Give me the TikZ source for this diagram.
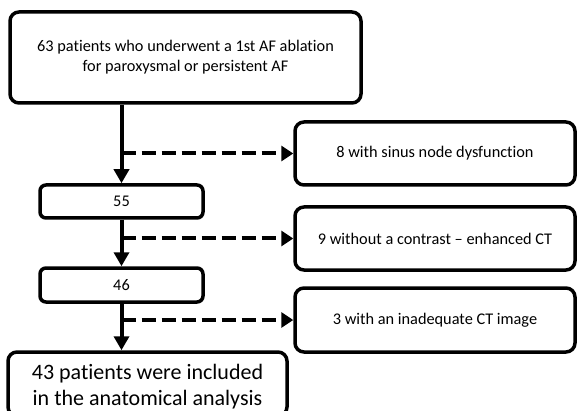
\documentclass[tikz,border=0pt]{standalone}
\usepackage{fontspec}
\setmainfont{Carlito}[Ligatures=NoCommon]
\usetikzlibrary{arrows.meta}
\begin{document}
\begin{tikzpicture}[x=1pt,y=-1pt,
  box/.style={draw=black, line width=3.5pt, rounded corners=9pt, fill=white, inner sep=0pt, align=center, font=\fontsize{16.3}{20}\selectfont},
  smallbox/.style={box, rounded corners=6pt},
  bigbox/.style={box},
  flow/.style={line width=4pt, -{Triangle[length=14pt,width=15pt]}},
  dasharrow/.style={line width=4pt, dash pattern=on 14pt off 6pt, -{Triangle[length=12pt,width=15pt]}}]
\useasboundingbox (0,0) rectangle (577,411);
\node[box, minimum width=351pt, minimum height=91pt] (top) at (185.5,57.5) {63 patients who underwent a 1st AF ablation\\for paroxysmal or persistent AF};
\node[smallbox, minimum width=163pt, minimum height=33pt] (b55) at (121.5,201.5) {55};
\node[smallbox, minimum width=163pt, minimum height=34pt] (b46) at (121.5,285) {46};
\node[bigbox, minimum width=279pt, minimum height=64pt] (fin) at (147.5,384) {};
\node[font=\fontsize{22}{26}\selectfont, align=center] (fintext) at (147.5,386.5) {43 patients were included\\in the anatomical analysis};
\node[box, minimum width=280pt, minimum height=63pt] (r1) at (435,153.5) {8 with sinus node dysfunction};
\node[box, minimum width=280pt, minimum height=63pt] (r2) at (435,238.5) {9 without a contrast -- enhanced CT};
\node[box, minimum width=280pt, minimum height=64pt] (r3) at (435,320) {3 with an inadequate CT image};
\draw[flow] (top.south -| b55.north) -- (b55.north);
\draw[flow] (b55.south) -- (b46.north);
\draw[flow] (b46.south) -- (fin.north -| b46.south);
\draw[dasharrow] (r1.west -| b55.center) -- (r1.west);
\draw[dasharrow] (r2.west -| b55.center) -- (r2.west);
\draw[dasharrow] (r3.west -| b55.center) -- (r3.west);
\end{tikzpicture}
\end{document}
